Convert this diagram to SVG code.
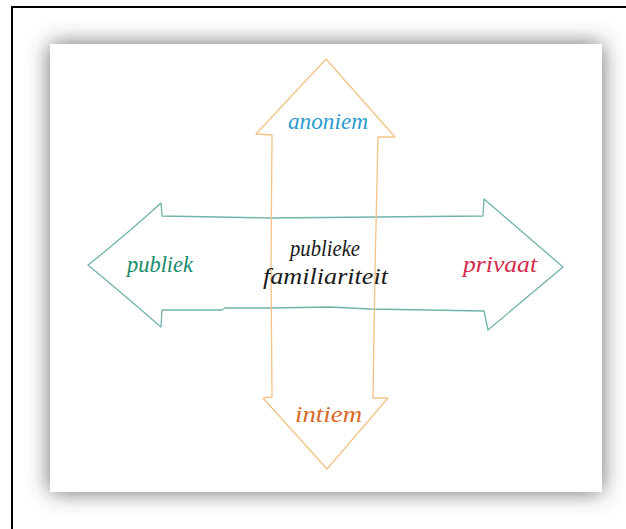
<svg xmlns="http://www.w3.org/2000/svg" width="626" height="529" viewBox="0 0 626 529">
  <defs>
    <filter id="shadow" x="-20%" y="-20%" width="140%" height="140%">
      <feDropShadow dx="0" dy="0" stdDeviation="11" flood-color="#444" flood-opacity="0.8"/>
    </filter>
  </defs>
  <style>
    .arrow { fill: none; stroke-width: 1.3; stroke-linejoin: round; stroke-linecap: round; }
    .orange { stroke: #f1c488; }
    .teal { stroke: #72b3ab; }
    .hand { font-family: "Liberation Serif", "DejaVu Serif", serif; font-style: italic; font-size: 24px; }
  </style>
  <rect x="0" y="0" width="626" height="529" fill="#ffffff"/>
  <rect x="12" y="7" width="700" height="600" fill="none" stroke="#000" stroke-width="2"/>
  <rect x="50" y="44" width="552" height="448" fill="#ffffff" filter="url(#shadow)"/>

  <g id="connectors">
    <path class="arrow teal" d="M88,265 Q120,240 161,203 L162,216 L270,218 L483,216 L484,199 L563,267 L488,330 L484,311 L370,309 L330,307 L270,308 L225,308 L222,310 L162,310 L161,327 Q130,300 88,265 Z"/>
    <path class="arrow orange" d="M326,59 L395,137 L378,137 L375,270 L373,398 L388,398 L327,469 L263,398 L272,397 L271,270 L272,135 L256,134 Z"/>
  </g>

  <g id="node-anoniem">
    <text class="hand" x="288" y="129" fill="#2a9bcf" textLength="80" lengthAdjust="spacingAndGlyphs">anoniem</text>
  </g>
  <g id="node-publiek">
    <text class="hand" x="127" y="272" fill="#178c6c" textLength="66" lengthAdjust="spacingAndGlyphs">publiek</text>
  </g>
  <g id="node-privaat">
    <text class="hand" x="463" y="272" fill="#d42b4c" textLength="74" lengthAdjust="spacingAndGlyphs">privaat</text>
  </g>
  <g id="node-intiem">
    <text class="hand" x="295" y="422" fill="#d96a28" textLength="67" lengthAdjust="spacingAndGlyphs">intiem</text>
  </g>
  <g id="node-center">
    <text class="hand" x="290" y="256" fill="#1a1a1a" textLength="70" lengthAdjust="spacingAndGlyphs">publieke</text>
    <text class="hand" x="263" y="284" fill="#1a1a1a" textLength="125" lengthAdjust="spacingAndGlyphs">familiariteit</text>
  </g>
</svg>
